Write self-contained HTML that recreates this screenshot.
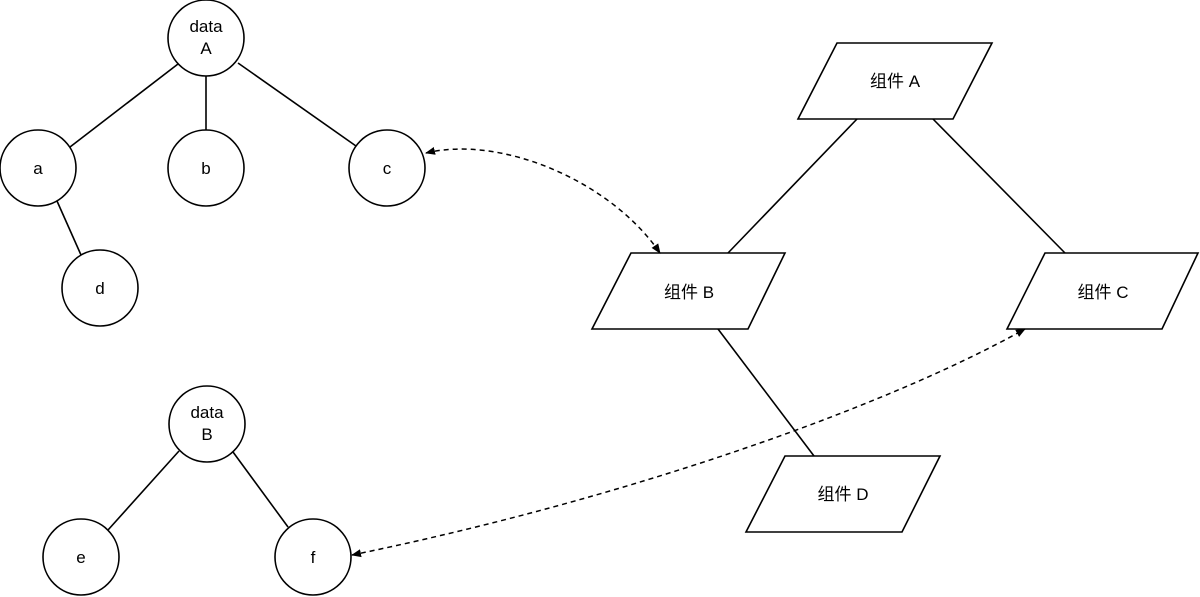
<!DOCTYPE html>
<html><head><meta charset="utf-8"><style>
html,body{margin:0;padding:0;background:#fff;}
svg{display:block;}
text{font-family:"Liberation Sans","Noto Sans CJK SC",sans-serif;font-size:17px;fill:#000;text-anchor:middle;}
</style></head><body>
<svg width="1200" height="597" viewBox="0 0 1200 597" xmlns="http://www.w3.org/2000/svg">
<defs>
<marker id="ah" markerWidth="10" markerHeight="10" refX="9" refY="5" orient="auto-start-reverse" markerUnits="userSpaceOnUse">
<path d="M0,1 L10,5 L0,9 Z" fill="#000"/>
</marker>
</defs>
<g stroke="#000" stroke-width="1.6" fill="none">
<line x1="178" y1="64" x2="70" y2="147"/>
<line x1="206" y1="76" x2="206" y2="130"/>
<line x1="238" y1="63" x2="356" y2="146"/>
<line x1="57" y1="201" x2="81" y2="255"/>
<line x1="179" y1="451" x2="108" y2="530"/>
<line x1="233" y1="452" x2="288" y2="527"/>
<line x1="857" y1="119" x2="728" y2="253"/>
<line x1="933" y1="119" x2="1065" y2="253"/>
<line x1="718" y1="329" x2="814" y2="456"/>
</g>
<g stroke="#000" stroke-width="1.6" fill="#fff">
<circle cx="206" cy="38" r="38"/>
<circle cx="38" cy="168" r="38"/>
<circle cx="206" cy="168" r="38"/>
<circle cx="387" cy="168" r="38"/>
<circle cx="100" cy="288" r="38"/>
<circle cx="207" cy="424" r="38"/>
<circle cx="81" cy="557" r="38"/>
<circle cx="313" cy="557" r="38"/>
<polygon points="837,43 992,43 953,119 798,119"/>
<polygon points="631,253 785,253 748,329 592,329"/>
<polygon points="1045,253 1198,253 1162,329 1007,329"/>
<polygon points="785,456 940,456 902,532 746,532"/>
</g>
<g stroke="#000" stroke-width="1.5" fill="none" stroke-dasharray="5,4">
<path d="M426,153 C500,135 610,180 660,253" marker-start="url(#ah)" marker-end="url(#ah)"/>
<path d="M352,555 C620,500 880,410 1025,329" marker-start="url(#ah)" marker-end="url(#ah)"/>
</g>
<text x="206" y="32">data</text>
<text x="206" y="54">A</text>
<text x="38" y="174">a</text>
<text x="206" y="174">b</text>
<text x="387" y="174">c</text>
<text x="100" y="294">d</text>
<text x="207" y="418">data</text>
<text x="207" y="440">B</text>
<text x="81" y="563">e</text>
<text x="313" y="563">f</text>
<text x="895" y="87">组件 A</text>
<text x="689" y="298">组件 B</text>
<text x="1103" y="298">组件 C</text>
<text x="843" y="500">组件 D</text>
</svg>
</body></html>
